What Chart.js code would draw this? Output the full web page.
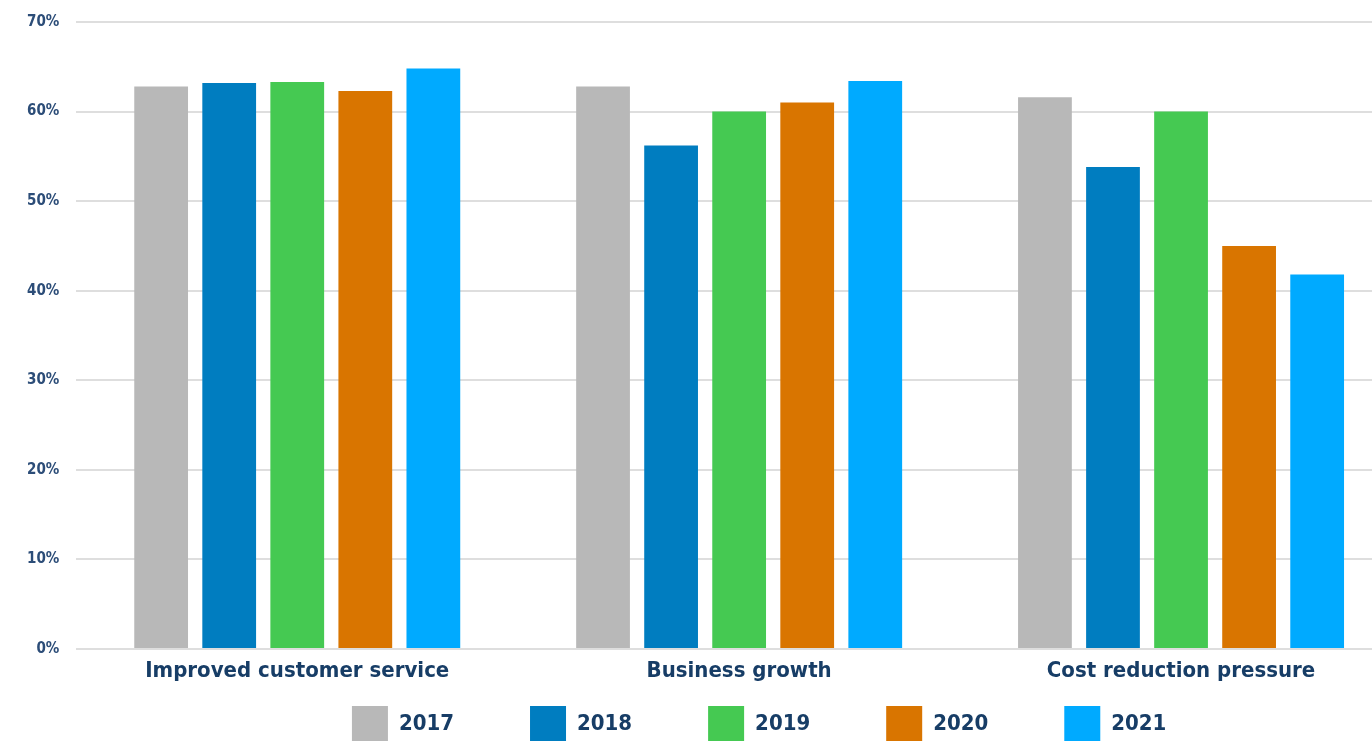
<!DOCTYPE html>
<html>
<head>
<meta charset="utf-8">
<script src="https://cdn.jsdelivr.net/npm/chart.js@4"></script>
<style>
  html, body { margin: 0; padding: 0; background: #fff; overflow: hidden; }
  .wrap { width: 1402px; height: 820px; margin-top: -4px; position: relative; }
</style>
</head>
<body>
<div class="wrap"><canvas id="chart"></canvas></div>
<script>
const categories = ['Improved customer service', 'Business growth', 'Cost reduction pressure'];
const years = ['2017', '2018', '2019', '2020', '2021'];
const values2017 = [62.8, 62.8, 61.6];
const values2018 = [63.2, 56.2, 53.8];
const values2019 = [63.3, 60.0, 60.0];
const values2020 = [62.3, 61.0, 45.0];
const values2021 = [64.8, 63.4, 41.8];
const colors = ['#b8b8b8', '#007dc0', '#45c952', '#d97500', '#00aaff'];
const yTicks = [0, 10, 20, 30, 40, 50, 60, 70];

const FONT = '"Liberation Sans Narrow", "DejaVu Sans Condensed", Roboto, sans-serif';
const TEXT = '#173d66';

const series = [values2017, values2018, values2019, values2020, values2021];

// legend padding is used both between items and above them; pull the row up under the axis
const legendPlacement = {
    id: 'legendPlacement',
    afterLayout(chart) {
        const lg = chart.legend;
        const pad = lg.options.labels.padding;
        const top = chart.chartArea.bottom + 57 - pad;
        lg.top = top;
        lg.bottom = top + lg.height;
        lg.left += 20;
        lg.right += 20;
    }
};

new Chart(document.getElementById('chart'), {
    type: 'bar',
    data: {
        labels: categories,
        datasets: series.map((vals, i) => ({
            label: years[i],
            data: vals,
            backgroundColor: colors[i],
            borderWidth: 0,
            barPercentage: 0.79,
            categoryPercentage: 0.77
        }))
    },
    options: {
        responsive: true,
        maintainAspectRatio: false,
        animation: false,
        layout: { padding: { left: 10, top: 4, right: 0, bottom: 0 } },
        scales: {
            x: {
                grid: { display: false },
                border: { display: false },
                ticks: {
                    color: TEXT,
                    padding: 1,
                    maxRotation: 0,
                    font: { family: FONT, size: 22, weight: 'bold' }
                },
                afterFit: scale => { scale.height = 45; }
            },
            y: {
                min: 0,
                max: 70,
                afterBuildTicks: axis => { axis.ticks = yTicks.map(v => ({ value: v })); },
                grid: { color: '#dedede', lineWidth: 2, drawTicks: false },
                border: { display: false },
                ticks: {
                    color: '#2c4d78',
                    padding: 17,
                    font: { family: FONT, size: 15, weight: 'bold' },
                    callback: v => v + '%'
                }
            }
        },
        plugins: {
            tooltip: { enabled: false },
            legend: {
                position: 'bottom',
                fullSize: false,
                labels: {
                    color: TEXT,
                    boxWidth: 36,
                    boxHeight: 36,
                    padding: 76,
                    font: { family: FONT, size: 22, weight: 'bold' }
                }
            }
        }
    },
    plugins: [legendPlacement]
});
</script>
</body>
</html>
